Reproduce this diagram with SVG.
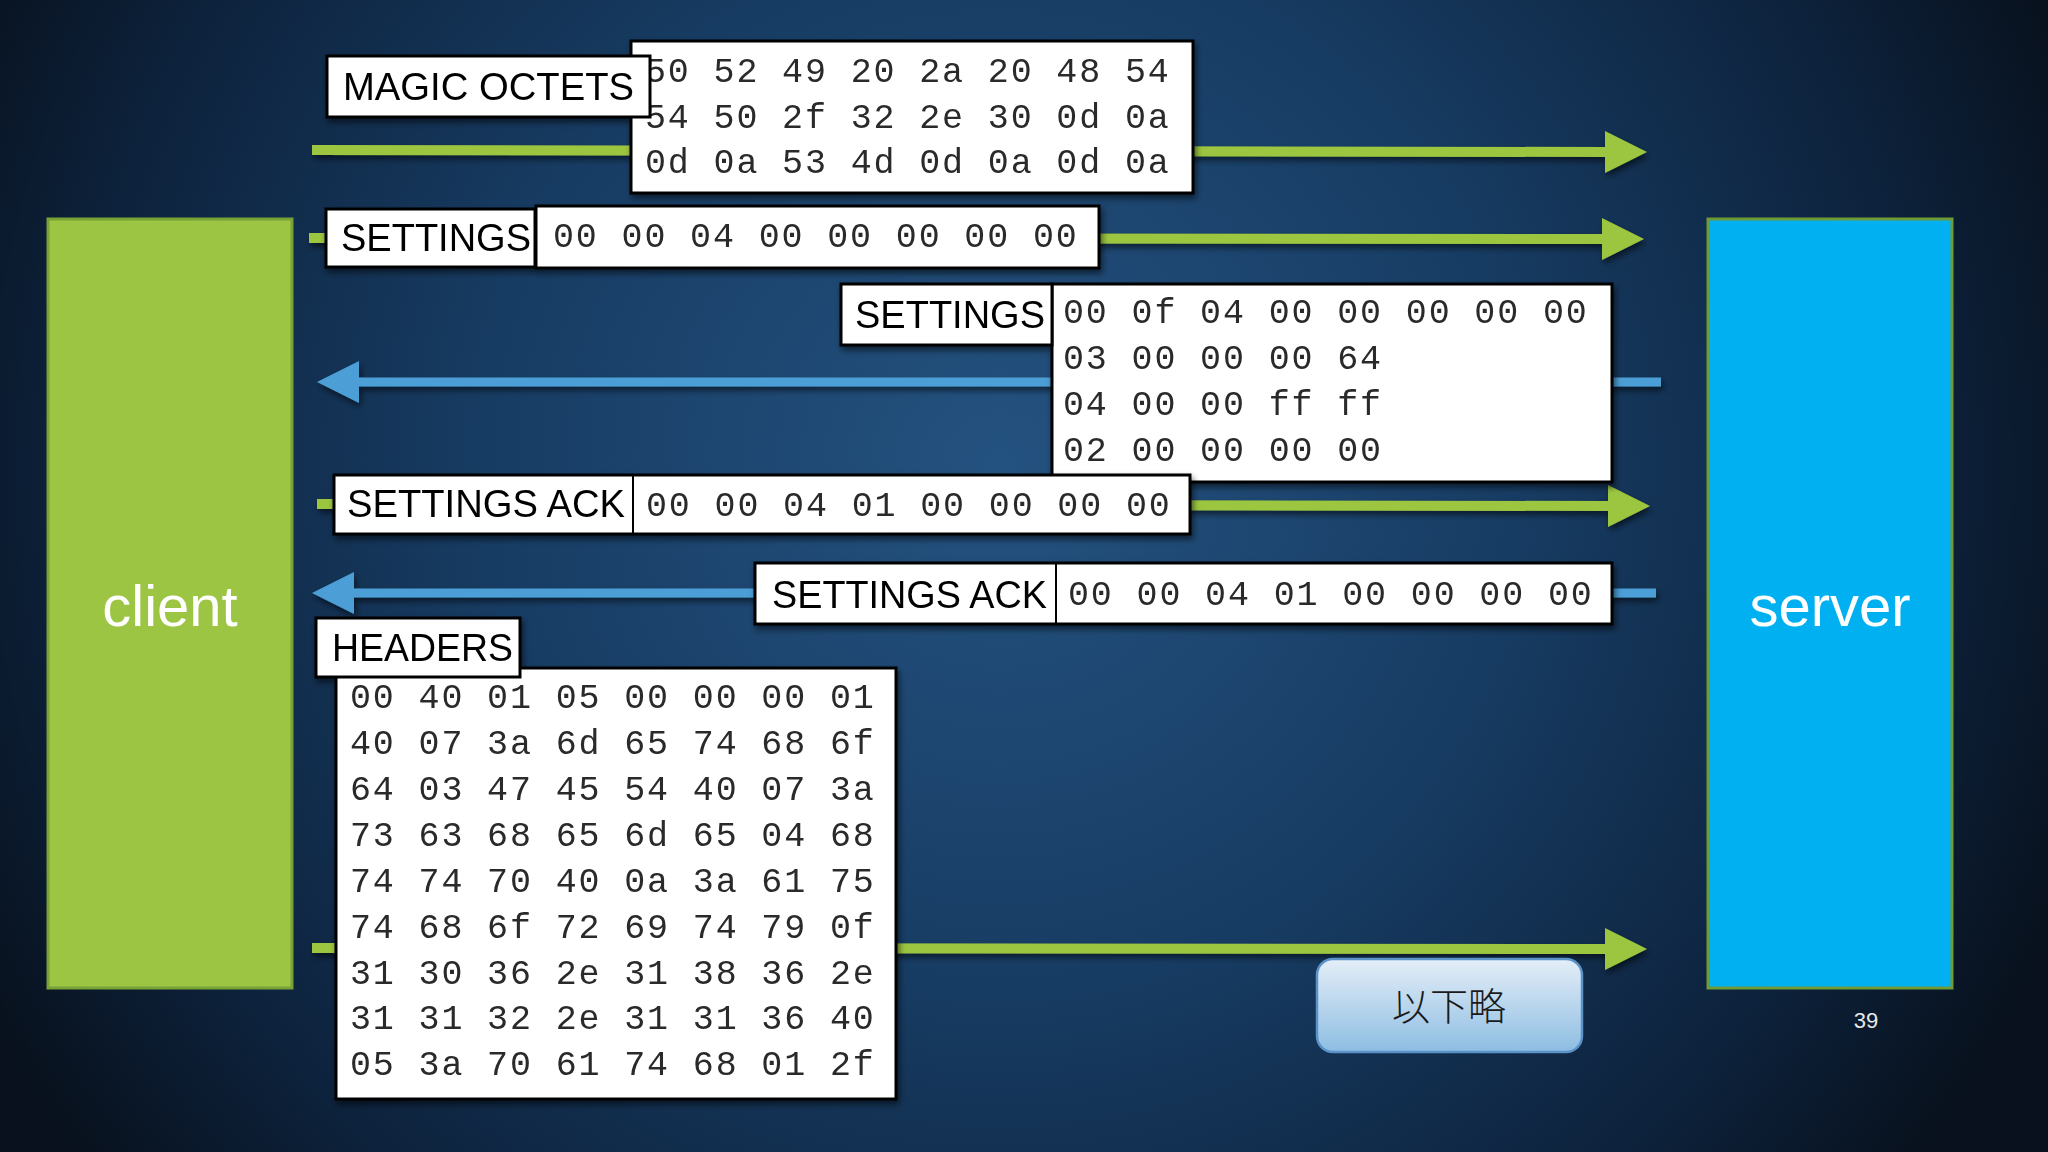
<svg xmlns="http://www.w3.org/2000/svg" width="2048" height="1152" viewBox="0 0 2048 1152">
  <defs>
    <radialGradient id="bg" cx="1000" cy="470" r="1150" gradientUnits="userSpaceOnUse">
      <stop offset="0" stop-color="#245280"/>
      <stop offset="0.45" stop-color="#173c63"/>
      <stop offset="0.8" stop-color="#0d223c"/>
      <stop offset="1" stop-color="#08111d"/>
    </radialGradient>
    <linearGradient id="btn" x1="0" y1="0" x2="0" y2="1">
      <stop offset="0" stop-color="#e4eef8"/>
      <stop offset="1" stop-color="#8dbde2"/>
    </linearGradient>
    <filter id="sh" x="-10%" y="-10%" width="120%" height="140%">
      <feDropShadow dx="2" dy="4" stdDeviation="3" flood-color="#000" flood-opacity="0.55"/>
    </filter>
    <marker id="hg" markerUnits="userSpaceOnUse" markerWidth="44" markerHeight="44" refX="0" refY="21" orient="auto">
      <path d="M0,0 L42,21 L0,42 z" fill="#9cc63f"/>
    </marker>
    <marker id="hb" markerUnits="userSpaceOnUse" markerWidth="44" markerHeight="44" refX="0" refY="21" orient="auto">
      <path d="M0,0 L42,21 L0,42 z" fill="#4c9fd6"/>
    </marker>
    <style>
      .g { stroke:#9cc63f; stroke-width:10; fill:none; }
      .b { stroke:#4c9fd6; stroke-width:9; fill:none; }
      .box { fill:#ffffff; stroke:#000000; stroke-width:3; }
      .lbl { font-family:"Liberation Sans", Arial, sans-serif; font-size:39px; fill:#000; }
      .hex { font-family:"Liberation Mono", "Courier New", monospace; font-size:35px; letter-spacing:1.85px; fill:#2a2a2a; }
      .ent { font-family:"Liberation Sans", Arial, sans-serif; font-size:58px; fill:#ffffff; text-anchor:middle; }
    </style>
  </defs>

  <rect x="0" y="0" width="2048" height="1152" fill="url(#bg)"/>

  <g id="client">
    <rect x="48" y="219" width="244" height="769" fill="#9dc544" stroke="#76a236" stroke-width="3"/>
    <text class="ent" x="170" y="626">client</text>
  </g>
  <g id="server">
    <rect x="1708" y="219" width="244" height="769" fill="#00b0f0" stroke="#6f9a38" stroke-width="3"/>
    <text class="ent" x="1830" y="626">server</text>
  </g>

  <g id="connectors" filter="url(#sh)">
    <line class="g" x1="312" y1="150" x2="1605" y2="152" marker-end="url(#hg)"/>
    <line class="g" x1="309" y1="238" x2="1602" y2="239" marker-end="url(#hg)"/>
    <line class="b" x1="1661" y1="382" x2="359" y2="382" marker-end="url(#hb)"/>
    <line class="g" x1="317" y1="504" x2="1608" y2="506" marker-end="url(#hg)"/>
    <line class="b" x1="1656" y1="593" x2="354" y2="593" marker-end="url(#hb)"/>
    <line class="g" x1="312" y1="948" x2="1605" y2="949" marker-end="url(#hg)"/>
  </g>

  <g id="magic" filter="url(#sh)">
    <rect class="box" x="631" y="41" width="562" height="152"/>
    <text class="hex" x="645" y="82">50 52 49 20 2a 20 48 54</text>
    <text class="hex" x="645" y="128">54 50 2f 32 2e 30 0d 0a</text>
    <text class="hex" x="645" y="173">0d 0a 53 4d 0d 0a 0d 0a</text>
    <rect class="box" x="327" y="56" width="323" height="61"/>
    <text class="lbl" x="343" y="100" textLength="291" lengthAdjust="spacingAndGlyphs">MAGIC OCTETS</text>
  </g>

  <g id="settings-client" filter="url(#sh)">
    <rect class="box" x="536" y="206" width="563" height="62"/>
    <text class="hex" x="553" y="247">00 00 04 00 00 00 00 00</text>
    <rect class="box" x="326" y="209" width="209" height="58"/>
    <text class="lbl" x="341" y="251" textLength="190" lengthAdjust="spacingAndGlyphs">SETTINGS</text>
  </g>

  <g id="settings-server" filter="url(#sh)">
    <rect class="box" x="1052" y="284" width="560" height="198"/>
    <text class="hex" x="1063" y="323">00 0f 04 00 00 00 00 00</text>
    <text class="hex" x="1063" y="369">03 00 00 00 64</text>
    <text class="hex" x="1063" y="415">04 00 00 ff ff</text>
    <text class="hex" x="1063" y="461">02 00 00 00 00</text>
    <rect class="box" x="841" y="284" width="211" height="61"/>
    <text class="lbl" x="855" y="328" textLength="190" lengthAdjust="spacingAndGlyphs">SETTINGS</text>
  </g>

  <g id="settings-ack-client" filter="url(#sh)">
    <rect class="box" x="334" y="475" width="856" height="59"/>
    <line x1="633" y1="475" x2="633" y2="534" stroke="#000" stroke-width="2"/>
    <text class="lbl" x="347" y="517" textLength="278" lengthAdjust="spacingAndGlyphs">SETTINGS ACK</text>
    <text class="hex" x="646" y="516">00 00 04 01 00 00 00 00</text>
  </g>

  <g id="settings-ack-server" filter="url(#sh)">
    <rect class="box" x="755" y="563" width="857" height="61"/>
    <line x1="1056" y1="563" x2="1056" y2="624" stroke="#000" stroke-width="2"/>
    <text class="lbl" x="772" y="608" textLength="275" lengthAdjust="spacingAndGlyphs">SETTINGS ACK</text>
    <text class="hex" x="1068" y="605">00 00 04 01 00 00 00 00</text>
  </g>

  <g id="headers" filter="url(#sh)">
    <rect class="box" x="336" y="668" width="560" height="431"/>
    <text class="hex" x="350" y="708">00 40 01 05 00 00 00 01</text>
    <text class="hex" x="350" y="754">40 07 3a 6d 65 74 68 6f</text>
    <text class="hex" x="350" y="800">64 03 47 45 54 40 07 3a</text>
    <text class="hex" x="350" y="846">73 63 68 65 6d 65 04 68</text>
    <text class="hex" x="350" y="892">74 74 70 40 0a 3a 61 75</text>
    <text class="hex" x="350" y="938">74 68 6f 72 69 74 79 0f</text>
    <text class="hex" x="350" y="984">31 30 36 2e 31 38 36 2e</text>
    <text class="hex" x="350" y="1029">31 31 32 2e 31 31 36 40</text>
    <text class="hex" x="350" y="1075">05 3a 70 61 74 68 01 2f</text>
    <rect class="box" x="316" y="618" width="204" height="59"/>
    <text class="lbl" x="332" y="661" textLength="181" lengthAdjust="spacingAndGlyphs">HEADERS</text>
  </g>

  <g id="omitted">
    <rect x="1317" y="959" width="265" height="93" rx="16" ry="16" fill="url(#btn)" stroke="#5b92c8" stroke-width="2.5"/>
    <text x="1449" y="1020" text-anchor="middle" font-family="'Noto Sans CJK JP', 'Noto Sans CJK SC', sans-serif" font-size="38" font-weight="300" fill="#1a1a1a">以下略</text>
  </g>

  <text x="1866" y="1028" text-anchor="middle" font-family="'Liberation Sans', Arial, sans-serif" font-size="22" fill="#e8e8e8">39</text>
</svg>
